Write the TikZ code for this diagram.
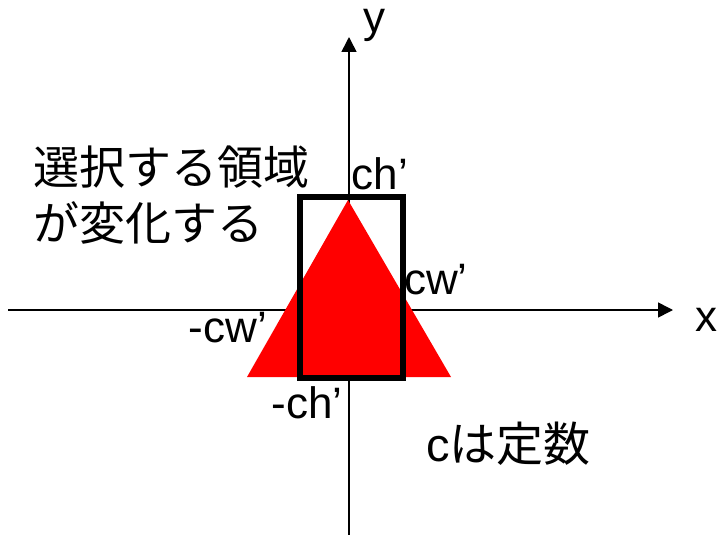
\documentclass[tikz,border=0pt]{standalone}
\usepackage{fontspec}
\setmainfont{Liberation Sans}
\newfontfamily\jpfont{Noto Sans CJK JP}
\usetikzlibrary{arrows.meta}
\begin{document}
\begin{tikzpicture}[x=1pt,y=-1pt,
  axisline/.style={line width=1.6pt,-{Triangle[length=15pt,width=15pt]}},
  lbl/.style={inner sep=0pt,font=\fontsize{44}{46}\selectfont},
  jplbl/.style={inner sep=0pt,align=left,font=\fontsize{46}{56}\selectfont\jpfont}]
\useasboundingbox (0,0) rectangle (717,535);
\fill[white] (0,0) rectangle (717,535);
% axes
\coordinate (xs) at (8,310);
\coordinate (xe) at (673,310);
\coordinate (ys) at (349,535);
\coordinate (ye) at (349,37);
\draw[axisline] (xs) -- (xe);
\draw[axisline] (ys) -- (ye);
% triangle
\coordinate (ta) at (348,200);
\coordinate (tl) at (247,377);
\coordinate (tr) at (451,377);
\fill[red] (ta) -- (tl) -- (tr) -- cycle;
% rectangle
\coordinate (r1) at (300,197);
\coordinate (r2) at (403,378);
\draw[line width=5.2pt] (r1) rectangle (r2);
% labels
\node[lbl,anchor=base,text height=0.55em,text depth=0.2em] (ylab) at (374,33) {y};
\node[lbl] (xlab) at (706,320) {x};
\node[lbl] (ch) at (380,174) {ch’};
\node[lbl] (cw) at (436,280) {cw’};
\node[lbl] (mcw) at (228,328) {-cw’};
\node[lbl] (mch) at (307,403) {-ch’};
\node[jplbl,anchor=west] (sel) at (33,195) {選択する領域\\が変化する};
\node[inner sep=0pt,anchor=west,font=\fontsize{47}{50}\selectfont] (const) at (426,444) {c{\jpfont は定数}};
\end{tikzpicture}
\end{document}
